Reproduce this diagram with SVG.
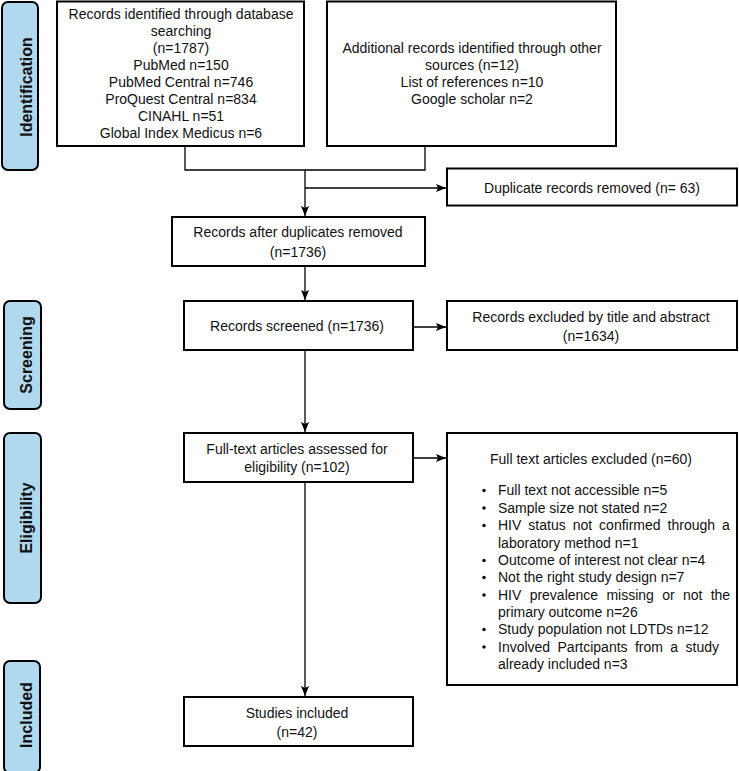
<svg xmlns="http://www.w3.org/2000/svg" width="739" height="771" viewBox="0 0 739 771">
<defs>
<style>
.box{fill:#fff;stroke:#000;stroke-width:2}
.side{fill:#b0d9ef;stroke:#000;stroke-width:2}
.t{font-family:"Liberation Sans",Arial,sans-serif;font-size:14px;fill:#111}
.c{text-anchor:middle}
.s{font-family:"Liberation Sans",Arial,sans-serif;font-size:16px;font-weight:bold;fill:#111;text-anchor:middle}
.ln{fill:none;stroke:#000;stroke-width:1.3}
</style>
<marker id="ah" viewBox="0 0 10 10" refX="10" refY="5" markerWidth="10" markerHeight="10" markerUnits="userSpaceOnUse" orient="auto">
<path d="M0,1 L10,5 L0,9 L2,5 Z" fill="#000"/>
</marker>
</defs>
<rect width="739" height="771" fill="#fff"/>

<g id="label-identification">
<rect class="side" x="2" y="2" width="36" height="168" rx="6"/>
<text class="s" transform="translate(32,87) rotate(-90)">Identification</text>
</g>
<g id="label-screening">
<rect class="side" x="4" y="301" width="37" height="108" rx="6"/>
<text class="s" transform="translate(32,355) rotate(-90)">Screening</text>
</g>
<g id="label-eligibility">
<rect class="side" x="4" y="433" width="37" height="170" rx="6"/>
<text class="s" transform="translate(32,518) rotate(-90)">Eligibility</text>
</g>
<g id="label-included">
<rect class="side" x="4" y="661" width="36" height="112" rx="6"/>
<text class="s" transform="translate(32,715) rotate(-90)">Included</text>
</g>

<g id="connectors">
<path class="ln" d="M185,146 V170 H425 V146"/>
<path class="ln" d="M305,170 V216" marker-end="url(#ah)"/>
<path class="ln" d="M305,188 H446" marker-end="url(#ah)"/>
<path class="ln" d="M305,266 V300" marker-end="url(#ah)"/>
<path class="ln" d="M413,327 H446" marker-end="url(#ah)"/>
<path class="ln" d="M305,350 V432" marker-end="url(#ah)"/>
<path class="ln" d="M413,458 H446" marker-end="url(#ah)"/>
<path class="ln" d="M305,482 V696" marker-end="url(#ah)"/>
</g>

<g id="db-records">
<rect class="box" x="57" y="1.5" width="247" height="144.5"/>
<text class="t c" x="181" y="19">Records identified through database</text>
<text class="t c" x="181" y="36">searching</text>
<text class="t c" x="181" y="53">(n=1787)</text>
<text class="t c" x="181" y="70">PubMed n=150</text>
<text class="t c" x="181" y="87">PubMed Central n=746</text>
<text class="t c" x="181" y="104">ProQuest Central n=834</text>
<text class="t c" x="181" y="121">CINAHL n=51</text>
<text class="t c" x="181" y="138">Global Index Medicus n=6</text>
</g>

<g id="other-records">
<rect class="box" x="327" y="1.5" width="289" height="144.5"/>
<text class="t c" x="472" y="53">Additional records identified through other</text>
<text class="t c" x="472" y="70">sources (n=12)</text>
<text class="t c" x="472" y="87">List of references n=10</text>
<text class="t c" x="472" y="104">Google scholar n=2</text>
</g>

<g id="duplicates">
<rect class="box" x="447" y="168.5" width="290" height="37"/>
<text class="t c" x="592" y="193">Duplicate records removed (n= 63)</text>
</g>

<g id="after-duplicates">
<rect class="box" x="172" y="217" width="253" height="49"/>
<text class="t c" x="298" y="237">Records after duplicates removed</text>
<text class="t c" x="298" y="257">(n=1736)</text>
</g>

<g id="screened">
<rect class="box" x="184" y="301" width="229" height="49"/>
<text class="t c" x="297" y="331">Records screened (n=1736)</text>
</g>

<g id="excluded-title">
<rect class="box" x="447" y="301" width="290" height="49"/>
<text class="t c" x="591" y="322">Records excluded by title and abstract</text>
<text class="t c" x="591" y="341">(n=1634)</text>
</g>

<g id="fulltext-assessed">
<rect class="box" x="184" y="433" width="229" height="49"/>
<text class="t c" x="297" y="454">Full-text articles assessed for</text>
<text class="t c" x="297" y="472">eligibility (n=102)</text>
</g>

<g id="fulltext-excluded">
<rect class="box" x="447" y="433" width="290" height="252"/>
<text class="t c" x="591" y="464">Full text articles excluded (n=60)</text>
<g fill="#111">
<circle cx="484" cy="490.5" r="1.8"/>
<circle cx="484" cy="508" r="1.8"/>
<circle cx="484" cy="525.5" r="1.8"/>
<circle cx="484" cy="560.5" r="1.8"/>
<circle cx="484" cy="577.5" r="1.8"/>
<circle cx="484" cy="595" r="1.8"/>
<circle cx="484" cy="629.5" r="1.8"/>
<circle cx="484" cy="647" r="1.8"/>
</g>
<text class="t" x="498" y="495">Full text not accessible n=5</text>
<text class="t" x="498" y="512.5">Sample size not stated n=2</text>
<text class="t" x="498" y="530" word-spacing="3.1">HIV status not confirmed through a</text>
<text class="t" x="498" y="547.5">laboratory method n=1</text>
<text class="t" x="498" y="565">Outcome of interest not clear n=4</text>
<text class="t" x="498" y="582">Not the right study design n=7</text>
<text class="t" x="498" y="599.5" word-spacing="4.4">HIV prevalence missing or not the</text>
<text class="t" x="498" y="617">primary outcome n=26</text>
<text class="t" x="498" y="634">Study population not LDTDs n=12</text>
<text class="t" x="498" y="651.5" word-spacing="3.5">Involved Partcipants from a study</text>
<text class="t" x="498" y="669">already included n=3</text>
</g>

<g id="included">
<rect class="box" x="184" y="697" width="229" height="49"/>
<text class="t c" x="297" y="718">Studies included</text>
<text class="t c" x="297" y="737">(n=42)</text>
</g>
</svg>
